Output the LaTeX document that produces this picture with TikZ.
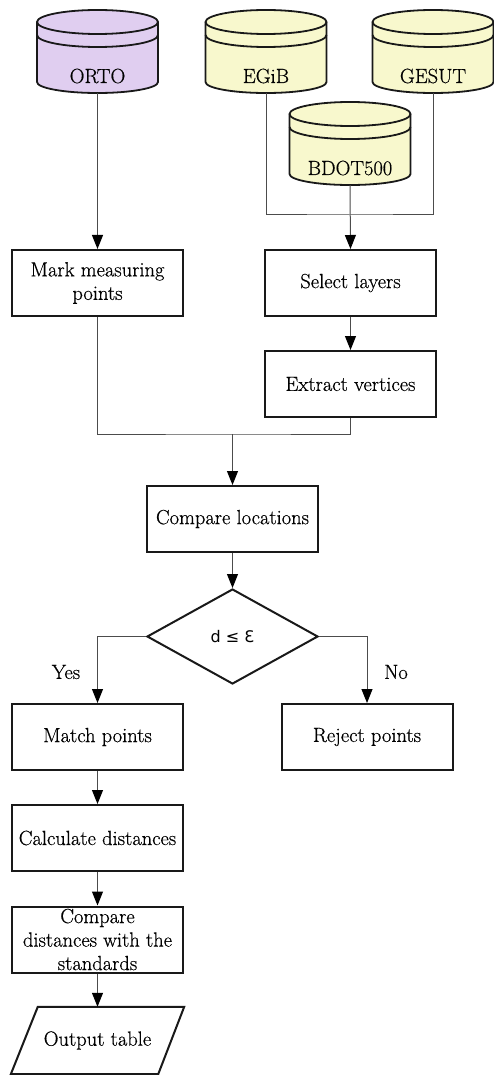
\documentclass[tikz,border=0pt]{standalone}
\usepackage{fontspec}
\setmainfont{Latin Modern Roman}[FakeBold=0.5]
\newfontfamily\djv{DejaVu Sans}
\usetikzlibrary{arrows.meta,shapes.geometric,calc}
\definecolor{cpurple}{RGB}{224,206,240}
\definecolor{cyellow}{RGB}{248,248,205}
\newcommand\dbcyl[5]{%
  \draw[cylline,fill=#4] (#2-60.5,-#3-12) -- (#2-60.5,-#3-72)
     arc[start angle=180,end angle=360,x radius=60.5,y radius=11]
     -- (#2+60.5,-#3-12)
     arc[start angle=0,end angle=180,x radius=60.5,y radius=12] -- cycle;
  \draw[cylline] (#2-60.5,-#3-12) arc[start angle=180,end angle=360,x radius=60.5,y radius=12];
  \draw[cylline] (#2-60.5,-#3-25) arc[start angle=180,end angle=360,x radius=60.5,y radius=12];
  \node[minimum width=121pt,minimum height=83pt,inner sep=0pt] (#1) at (#2,-#3-41.5) {};
  \node[lbl,anchor=base] (#1t) at (#2,-#3-73) {#5};
}
\begin{document}
\begin{tikzpicture}[x=1pt,y=1pt,
  conn/.style={line width=1pt,draw=black!70},
  arr/.style={conn,-{Triangle[length=14pt,width=11pt,black]}},
  boxline/.style={draw=black!90,line width=2pt},
  box/.style={boxline,minimum width=171pt,minimum height=66pt,inner sep=0pt,align=center,font=\fontsize{20.5}{23.5}\selectfont},
  cylline/.style={draw=black!90,line width=1.8pt},
  lbl/.style={font=\fontsize{20.5}{23.5}\selectfont,inner sep=0pt,align=center}]
\useasboundingbox (0,0) rectangle (494,-1075);

\dbcyl{orto}{97.5}{10}{cpurple}{ORTO}
\dbcyl{egib}{266}{10}{cyellow}{EGiB}
\dbcyl{gesut}{433}{10}{cyellow}{GESUT}
\dbcyl{bdot}{350}{102}{cyellow}{BDOT500}

\node[box] (mark) at (97.5,-283) {Mark measuring\\points};
\node[box] (select) at (350.5,-283) {Select layers};
\node[box] (extract) at (350.5,-384) {Extract vertices};
\node[box] (compare) at (232.5,-519) {Compare locations};
\node[boxline,shape=diamond,minimum width=171pt,minimum height=95pt,inner sep=0pt,font=\djv\fontsize{16}{19}\selectfont] (dec) at (232.5,-636.5) {d ≤ Ɛ};
\node[box] (match) at (97.5,-737) {Match points};
\node[box] (reject) at (367,-737) {Reject points};
\node[box] (calc) at (97.5,-838) {Calculate distances};
\node[box] (cmpd) at (97.5,-939.5) {Compare\\distances with the\\standards};
\node[lbl,minimum width=173pt,minimum height=67pt] (out) at (97.5,-1040.5) {Output table};
\draw[boxline] ($(out.north west)+(27,0)$) -- (out.north east) -- ($(out.south east)+(-26,0)$) -- (out.south west) -- cycle;

\node[lbl] (yes) at (66,-672) {Yes};
\node[lbl] (no) at (396,-672) {No};

\coordinate (j1) at (350,-215);
\coordinate (j2) at (232.5,-434);

\draw[arr] (orto.south) -- (mark.north);
\draw[conn] (egib.south) |- (j1) -| (gesut.south);
\draw[arr] (bdot.south) -- (select.north);
\draw[arr] (select.south) -- (extract.north);
\draw[conn] (mark.south) |- (j2) -| (extract.south);
\draw[arr] (j2) -- (compare.north);
\draw[arr] (compare.south) -- (dec.north);
\draw[arr] (dec.west) -| (match.north);
\draw[arr] (dec.east) -| (reject.north);
\draw[arr] (match.south) -- (calc.north);
\draw[arr] (calc.south) -- (cmpd.north);
\draw[arr] (cmpd.south) -- (out.north);
\end{tikzpicture}
\end{document}
